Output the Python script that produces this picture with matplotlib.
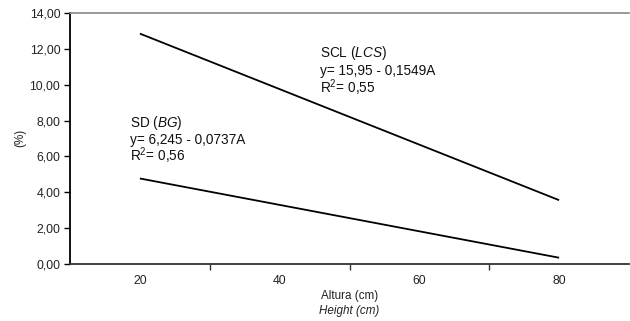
import matplotlib
matplotlib.use("Agg")
import matplotlib.pyplot as plt

plt.rcParams['font.family'] = ['Liberation Sans', 'DejaVu Sans']
plt.rcParams['mathtext.fontset'] = 'custom'
plt.rcParams['mathtext.rm'] = 'Liberation Sans'
plt.rcParams['mathtext.it'] = 'Liberation Sans:italic'

# Data
height = [20, 80]
scl = [12.85, 3.56]   # SCL (LCS): y = 15,95 - 0,1549A
sd = [4.77, 0.35]     # SD (BG): y = 6,245 - 0,0737A
x_categories = [20, 40, 60, 80]
y_ticks = [0, 2, 4, 6, 8, 10, 12, 14]

fig = plt.figure(figsize=(6.3, 3.21), dpi=100)
ax = fig.add_axes([70/630, 1-264/321, 559/630, 251/321])

ax.plot(height, scl, color='black', lw=1.3, solid_capstyle='butt')
ax.plot(height, sd, color='black', lw=1.3, solid_capstyle='butt')

ax.set_xlim(10, 90)
ax.set_ylim(0, 14)
ax.set_yticks(y_ticks)
ax.set_yticklabels([f"{v:.2f}".replace('.', ',') for v in y_ticks], fontsize=8.8, color='#222222')
# category boundaries as major ticks, labels at category centres
ax.set_xticks([30, 50, 70])
ax.set_xticklabels([])
ax.set_xticks(x_categories, minor=True)
ax.set_xticklabels([str(c) for c in x_categories], minor=True, fontsize=8.8, color='#222222')
ax.tick_params(axis='x', which='minor', length=0, pad=8)
ax.tick_params(axis='x', which='major', length=4, direction='out', width=1, color='#333333')
ax.tick_params(axis='y', length=4, direction='out', width=1, pad=3)

ax.spines['right'].set_visible(False)
ax.spines['top'].set_color('#888888')
ax.spines['top'].set_linewidth(1.2)
ax.spines['left'].set_linewidth(1.3)
ax.spines['bottom'].set_linewidth(1.3)
ax.spines['bottom'].set_color('#333333')

fig.text(20/630, 1-138/321, '(%)', rotation=90, ha='center', va='center', fontsize=8.4, color='#222222')
fig.text(349.5/630, 1-296/321, 'Altura (cm)', ha='center', va='center', fontsize=8.4, color='#222222')
fig.text(349.5/630, 1-311/321, 'Height (cm)', ha='center', va='center', fontsize=8.4, style='italic', color='#222222')

def annot(px, py, lines):
    for i, t in enumerate(lines):
        fig.text(px/630, 1-(py + i*17.5)/321, t, ha='left', va='baseline', fontsize=9.8, color='#111111')

annot(320, 57.5, [r'SCL ($\mathit{LCS}$)', 'y= 15,95 - 0,1549A', r'R$^2$= 0,55'])
annot(130, 126.5, [r'SD ($\mathit{BG}$)', 'y= 6,245 - 0,0737A', r'R$^2$= 0,56'])

fig.savefig('out.png', dpi=100)
